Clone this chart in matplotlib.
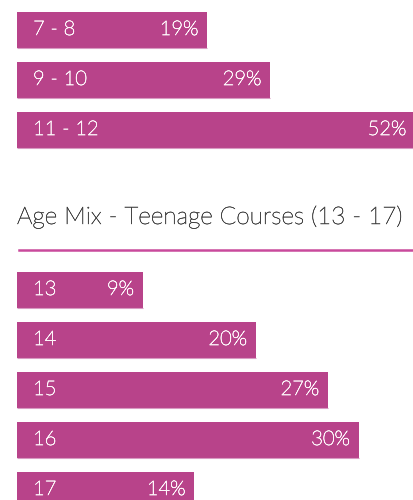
import matplotlib
matplotlib.use("Agg")
import matplotlib.pyplot as plt
import matplotlib.patheffects as pe
from matplotlib.lines import Line2D

# data
junior_ages = ["7 - 8", "9 - 10", "11 - 12"]
junior_share = [19, 29, 52]

teen_ages = ["13", "14", "15", "16", "17"]
teen_share = [9, 20, 27, 30, 14]

teen_title = "Age Mix - Teenage Courses (13 - 17)"

BAR = "#b8438a"
EDGE = "#d99ac2"
TXT = "#fdf5f9"
W, H = 414, 500

plt.rcParams["font.family"] = ["Lato", "DejaVu Sans"]

fig = plt.figure(figsize=(W / 100, H / 100), dpi=100)
thin = [pe.withStroke(linewidth=0.45, foreground=TXT)]


def px_axes(top, bottom):
    return fig.add_axes([17 / W, 1 - bottom / H, (W - 17) / W, (bottom - top) / H])


def draw_bars(ax, labels, values, pad, xmax, ybottom):
    n = len(values)
    widths = [v + pad for v in values]
    ax.barh(range(n), widths, height=0.72, color=BAR, edgecolor="none")
    for i, w in enumerate(widths):
        # faint border under each bar
        ax.plot([0, w], [i + 0.36, i + 0.36], color=EDGE, lw=0.8, solid_capstyle="butt")
        ax.annotate(labels[i], xy=(0, i), xytext=(16, 0), textcoords="offset pixels",
                    ha="left", va="center", color=TXT, fontsize=14.5, fontweight="light",
                    annotation_clip=False, path_effects=thin)
        ax.annotate(f"{values[i]}%", xy=(w, i), xytext=(-9, 0), textcoords="offset pixels",
                    ha="right", va="center", color=TXT, fontsize=14.5, fontweight="light",
                    annotation_clip=False, path_effects=thin)
    ax.set_xlim(0, xmax)
    ax.set_ylim(ybottom, -0.5)
    ax.axis("off")


ax1 = px_axes(5, 155)
draw_bars(ax1, junior_ages, junior_share, 11.2, 63.0, 2.5)

ax2 = px_axes(265, 500)
draw_bars(ax2, teen_ages, teen_share, 3.25, 38.6, 4.2)

fig.text(17 / W, 1 - 224 / H, teen_title, ha="left", va="baseline",
         fontsize=17.5, fontweight="light", color="#444444",
         path_effects=[pe.withStroke(linewidth=0.35, foreground="#444444")])
fig.add_artist(Line2D([19 / W, 1], [1 - 250 / H, 1 - 250 / H], color="#c94a9c", lw=1.8))

fig.savefig("out.png", dpi=100)
